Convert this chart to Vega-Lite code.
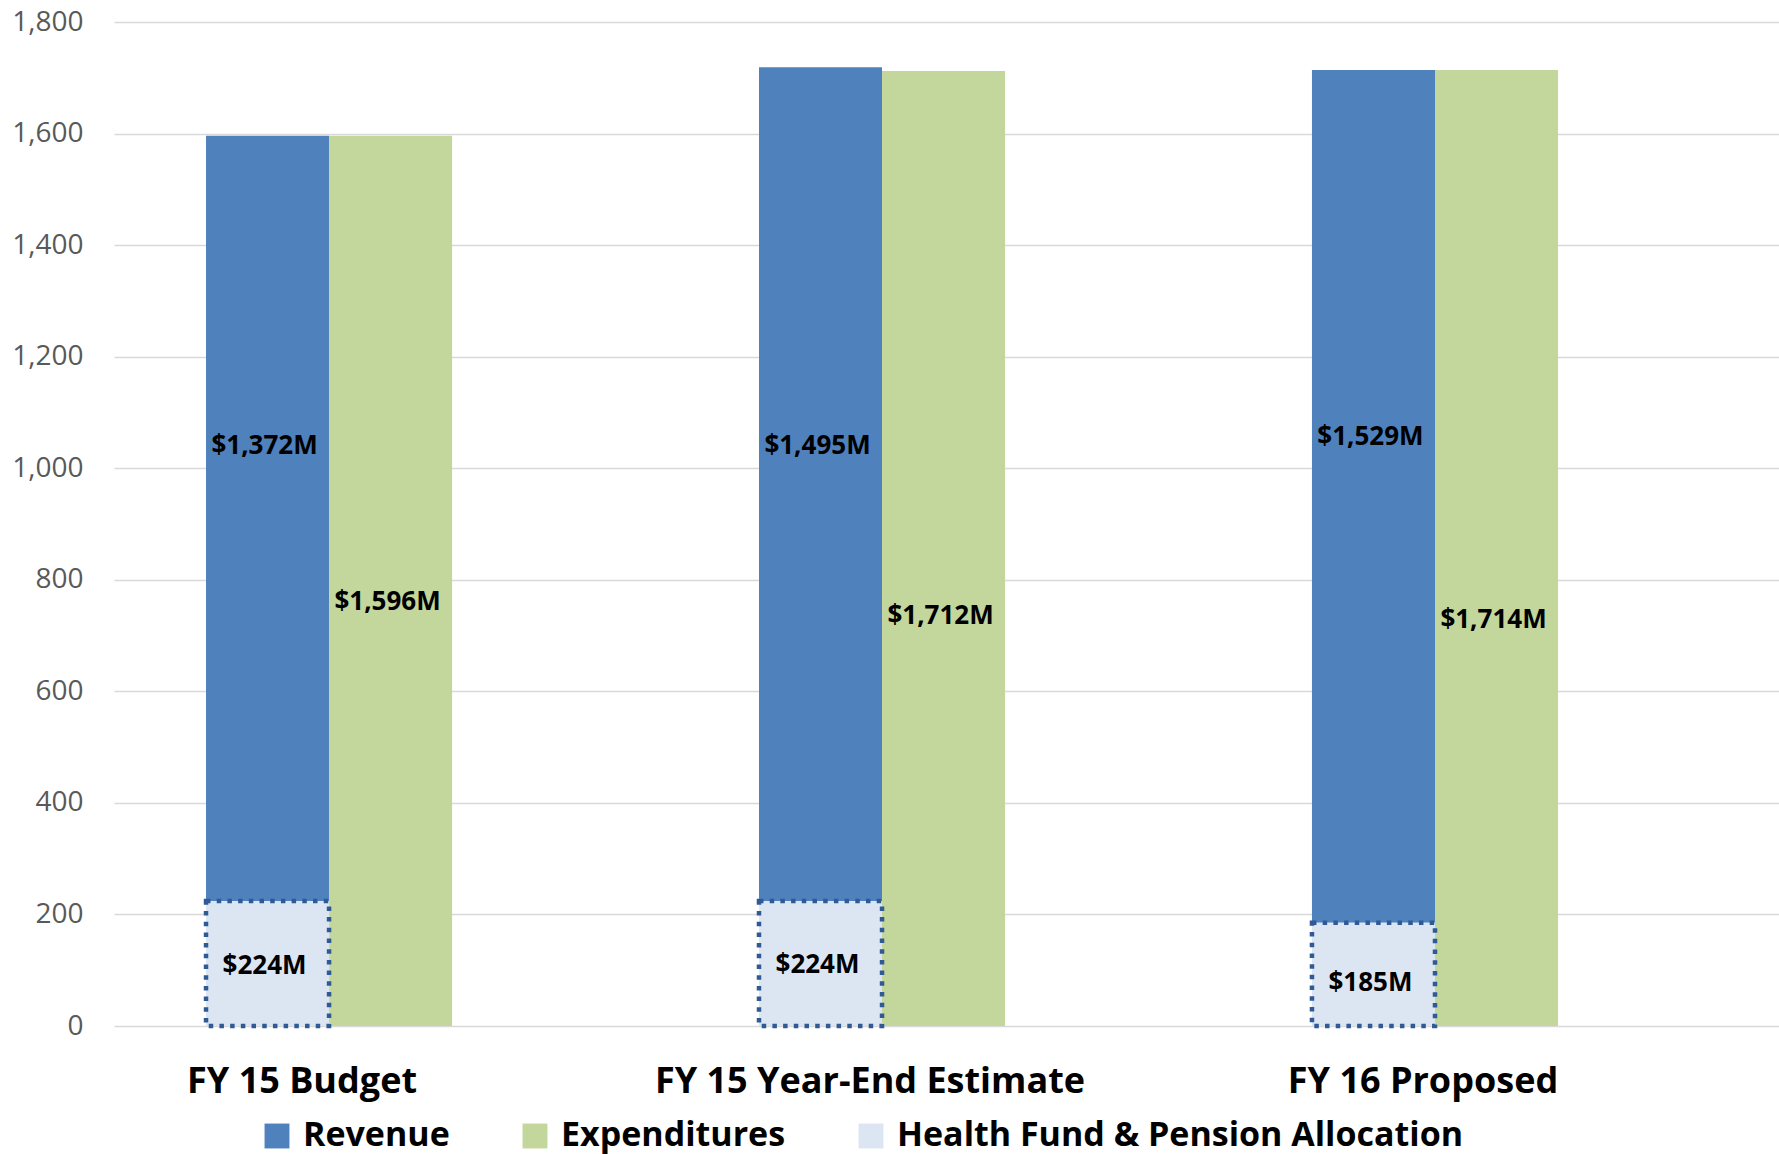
{
  "$schema": "https://vega.github.io/schema/vega-lite/v6.json",
  "width": 1665,
  "height": 1004,
  "autosize": {"type": "none"},
  "padding": {"left": 114, "top": 22, "right": 0, "bottom": 128},
  "background": "white",
  "config": {"view": {"stroke": null}},
  "datasets": {
    "bars": [
      {"category": "FY 15 Budget", "column": "Revenue", "series": "Health Fund & Pension Allocation", "value": 224},
      {"category": "FY 15 Budget", "column": "Revenue", "series": "Revenue", "value": 1372},
      {"category": "FY 15 Budget", "column": "Expenditures", "series": "Expenditures", "value": 1596},
      {"category": "FY 15 Year-End Estimate", "column": "Revenue", "series": "Health Fund & Pension Allocation", "value": 224},
      {"category": "FY 15 Year-End Estimate", "column": "Revenue", "series": "Revenue", "value": 1495},
      {"category": "FY 15 Year-End Estimate", "column": "Expenditures", "series": "Expenditures", "value": 1712},
      {"category": "FY 16 Proposed", "column": "Revenue", "series": "Health Fund & Pension Allocation", "value": 185},
      {"category": "FY 16 Proposed", "column": "Revenue", "series": "Revenue", "value": 1529},
      {"category": "FY 16 Proposed", "column": "Expenditures", "series": "Expenditures", "value": 1714}
    ],
    "labels": [
      {"category": "FY 15 Budget", "column": "Revenue", "label": "$1,372M", "pos": 1040},
      {"category": "FY 15 Budget", "column": "Expenditures", "label": "$1,596M", "pos": 760},
      {"category": "FY 15 Budget", "column": "Revenue", "label": "$224M", "pos": 108},
      {"category": "FY 15 Year-End Estimate", "column": "Revenue", "label": "$1,495M", "pos": 1040},
      {"category": "FY 15 Year-End Estimate", "column": "Expenditures", "label": "$1,712M", "pos": 735},
      {"category": "FY 15 Year-End Estimate", "column": "Revenue", "label": "$224M", "pos": 110},
      {"category": "FY 16 Proposed", "column": "Revenue", "label": "$1,529M", "pos": 1056},
      {"category": "FY 16 Proposed", "column": "Expenditures", "label": "$1,714M", "pos": 728},
      {"category": "FY 16 Proposed", "column": "Revenue", "label": "$185M", "pos": 77}
    ]
  },
  "encoding": {
    "x": {
      "field": "category",
      "type": "nominal",
      "sort": ["FY 15 Budget", "FY 15 Year-End Estimate", "FY 16 Proposed"],
      "scale": {"paddingInner": 0.555, "paddingOuter": 0.283, "align": 0.294},
      "axis": {
        "title": null,
        "labelAngle": 0,
        "domain": false,
        "ticks": false,
        "labelFont": "Open Sans",
        "labelFontWeight": "bold",
        "labelFontSize": 36,
        "labelColor": "#000000",
        "labelPadding": 38,
        "labelLimit": 800,
        "labelOffset": {"condition": {"test": "datum.value === 'FY 15 Budget'", "value": -27}, "value": -12}
      }
    },
    "xOffset": {
      "field": "column",
      "type": "nominal",
      "sort": ["Revenue", "Expenditures"],
      "scale": {"domain": ["Revenue", "Expenditures"], "paddingInner": 0, "paddingOuter": 0}
    }
  },
  "layer": [
    {
      "data": {"name": "bars"},
      "mark": {"type": "bar"},
      "encoding": {
        "y": {
          "field": "value",
          "type": "quantitative",
          "stack": "zero",
          "title": null,
          "scale": {"domain": [0, 1800], "nice": false},
          "axis": {
            "values": [0, 200, 400, 600, 800, 1000, 1200, 1400, 1600, 1800],
            "format": ",d",
            "domain": false,
            "ticks": false,
            "grid": true,
            "gridColor": "#D9D9D9",
            "gridWidth": 1.5,
            "labelFont": "Open Sans",
            "labelFontSize": 28,
            "labelColor": "#595959",
            "labelPadding": 31
          }
        },
        "order": {"field": "series", "sort": "ascending"},
        "color": {
          "field": "series",
          "type": "nominal",
          "scale": {
            "domain": ["Revenue", "Expenditures", "Health Fund & Pension Allocation"],
            "range": ["#4F81BD", "#C3D69B", "#DCE6F2"]
          },
          "legend": {
            "title": null,
            "orient": "none",
            "direction": "horizontal",
            "legendX": 146,
            "legendY": 1097,
            "symbolType": "square",
            "symbolSize": 620,
            "symbolStrokeWidth": 0,
            "labelFont": "Open Sans",
            "labelFontWeight": "bold",
            "labelFontSize": 34,
            "labelColor": "#000000",
            "labelOffset": 9,
            "columnPadding": 68,
            "labelLimit": 1000
          }
        }
      }
    },
    {
      "data": {"name": "bars"},
      "transform": [{"filter": "datum.series === 'Health Fund & Pension Allocation'"}],
      "mark": {"type": "bar", "fill": "#DCE6F2", "stroke": "#2F5A96", "strokeWidth": 4.5, "strokeDash": [4.5, 6.2], "strokeCap": "butt"},
      "encoding": {
        "y": {"field": "value", "type": "quantitative", "stack": null, "title": null}
      }
    },
    {
      "data": {"name": "labels"},
      "mark": {"type": "text", "font": "Open Sans", "fontWeight": "bold", "fontSize": 26, "color": "#000000", "align": "center", "baseline": "middle", "dx": -3},
      "encoding": {
        "y": {"field": "pos", "type": "quantitative", "title": null},
        "text": {"field": "label", "type": "nominal"}
      }
    }
  ]
}
